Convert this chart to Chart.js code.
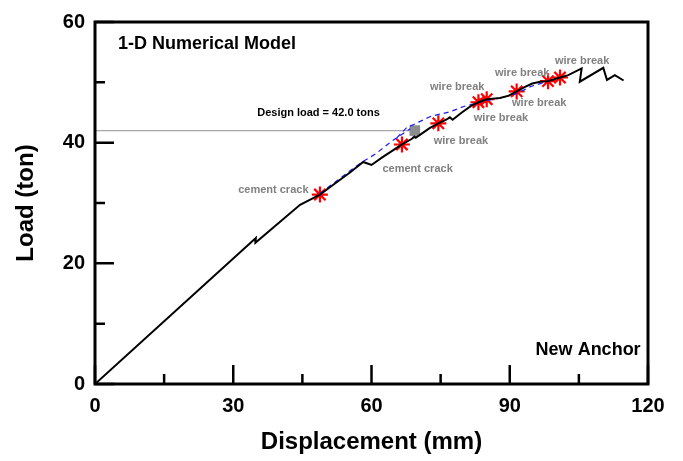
<!DOCTYPE html>
<html>
<head>
<meta charset="utf-8">
<title>Load - Displacement</title>
<script src="https://cdn.jsdelivr.net/npm/chart.js@4.4.1/dist/chart.umd.min.js"></script>
<style>
  html, body { margin: 0; padding: 0; background: #fff; }
  #wrap { width: 683px; height: 461px; }
</style>
</head>
<body>
<div id="wrap"><canvas id="anchorChart" width="683" height="461"></canvas></div>
<script>
// ── DATA ──────────────────────────────────────────────────────
// 1-D model response (mm / ton)
const dispModel = [0, 34.9, 34.8, 44.5, 48.8, 52.0, 55.4, 58.2, 60.0, 62.4, 64.4, 66.6, 68.7, 69.3, 69.6,
  70.9, 72.6, 74.5, 76.2, 77.0, 77.6, 79.6, 81.6, 83.2, 85.0, 86.3, 87.9, 89.8, 91.5, 93.2, 94.9,
  96.6, 98.3, 100.9, 102.7, 105.6, 105.2, 110.3, 111.1, 112.8, 114.7];
const loadModel = [0, 24.2, 23.4, 29.7, 31.4, 33.2, 35.1, 36.8, 36.3, 37.6, 38.6, 39.7, 40.6, 41.0, 40.8,
  41.5, 42.4, 43.2, 43.8, 44.2, 43.8, 45.0, 46.1, 46.7, 47.2, 47.3, 47.4, 47.8, 48.5, 49.2, 49.8,
  50.1, 50.2, 50.8, 51.2, 52.3, 50.1, 52.4, 50.4, 51.2, 50.3];

// dashed branches
const dispBranchA = [48.8, 52.5, 56.5, 58.2, 61.0, 64.5, 68.4];
const loadBranchA = [31.6, 33.7, 36.0, 36.9, 38.2, 40.3, 42.3];
const dispBranchB = [65.5, 67.5, 70.2, 73.0, 77.0, 80.0, 82.5, 85.0, 88.0, 91.5, 94.5, 97.5, 99.5];
const loadBranchB = [40.8, 42.4, 43.4, 44.4, 45.1, 46.0, 46.5, 47.0, 47.4, 48.1, 49.3, 50.0, 50.5];

// cracking / wire break events
const eventDisp = [48.8, 66.6, 74.5, 83.2, 85.0, 91.5, 98.3, 100.9];
const eventLoad = [31.4, 39.7, 43.2, 46.7, 47.2, 48.5, 50.2, 50.8];

// event labels
const noteText = ['cement crack', 'cement crack', 'wire break', 'wire break',
  'wire break', 'wire break', 'wire break', 'wire break'];
const noteX = [38.7, 70.0, 79.4, 88.1, 78.6, 96.4, 92.7, 105.7];
const noteY = [32.1, 35.6, 40.3, 44.1, 49.3, 46.5, 51.6, 53.6];

const designLoad = 42.0;
const designDisp = 69.4;

// axis ticks
const xMajor = [0, 30, 60, 90, 120];
const xMinor = [15, 45, 75, 105];
const yMajor = [0, 20, 40, 60];
const yMinor = [10, 30, 50];

const FONT = "'Liberation Sans', Arial, Helvetica, sans-serif";

function pts(xs, ys) {
  return xs.map((v, i) => ({ x: v, y: ys[i] }));
}

// ── FRAME, TICKS & TEXT ───────────────────────────────────────
const framePlugin = {
  id: 'frame',
  afterDatasetsDraw(chart) {
    const { ctx, chartArea: a, scales: { x, y } } = chart;
    ctx.save();
    ctx.strokeStyle = '#000';
    ctx.lineWidth = 3;
    ctx.strokeRect(a.left, a.top, a.right - a.left, a.bottom - a.top);

    ctx.lineWidth = 2.5;
    ctx.beginPath();
    const tickX = (v, len) => {
      const px = x.getPixelForValue(v);
      ctx.moveTo(px, a.bottom); ctx.lineTo(px, a.bottom - len);
    };
    const tickY = (v, len) => {
      const py = y.getPixelForValue(v);
      ctx.moveTo(a.left, py); ctx.lineTo(a.left + len, py);
    };
    xMajor.forEach(v => tickX(v, 19));
    xMinor.forEach(v => tickX(v, 10));
    yMajor.forEach(v => tickY(v, 19));
    yMinor.forEach(v => tickY(v, 10));
    ctx.stroke();
    ctx.restore();
  },
  afterDraw(chart) {
    const { ctx, scales: { x, y } } = chart;
    ctx.save();
    ctx.textBaseline = 'middle';

    ctx.fillStyle = '#808080';
    ctx.textAlign = 'center';
    ctx.font = `bold 11px ${FONT}`;
    noteText.forEach((t, i) => {
      ctx.fillText(t, x.getPixelForValue(noteX[i]), y.getPixelForValue(noteY[i]));
    });

    ctx.fillStyle = '#000';
    ctx.fillText('Design load = 42.0 tons', x.getPixelForValue(48.5), y.getPixelForValue(44.9));

    ctx.font = `bold 18px ${FONT}`;
    ctx.textAlign = 'left';
    ctx.fillText('1-D Numerical Model', x.getPixelForValue(5.0), y.getPixelForValue(56.3));
    ctx.textAlign = 'right';
    ctx.fillText('New Anchor', x.getPixelForValue(118.4), y.getPixelForValue(5.7));
    ctx.restore();
  }
};

// ── CHART ─────────────────────────────────────────────────────
const ctx = document.getElementById('anchorChart').getContext('2d');
new Chart(ctx, {
  type: 'line',
  data: {
    datasets: [
      {
        label: '1-D model',
        data: pts(dispModel, loadModel),
        borderColor: '#000',
        borderWidth: 2,
        pointRadius: 0,
        tension: 0,
        order: 1,
      },
      {
        label: 'branch A',
        data: pts(dispBranchA, loadBranchA),
        borderColor: '#1a1aff',
        borderWidth: 1.2,
        borderDash: [5, 4],
        pointRadius: 0,
        order: 2,
      },
      {
        label: 'branch B',
        data: pts(dispBranchB, loadBranchB),
        borderColor: '#1a1aff',
        borderWidth: 1.2,
        borderDash: [5, 4],
        pointRadius: 0,
        order: 2,
      },
      {
        label: 'events',
        data: pts(eventDisp, eventLoad),
        showLine: false,
        pointStyle: 'star',
        pointRadius: 8,
        pointBorderWidth: 2.2,
        pointBorderColor: '#ff0000',
        order: 3,
      },
      {
        label: 'design load',
        data: [{ x: 0, y: designLoad }, { x: designDisp, y: designLoad }],
        borderColor: '#a8a8a8',
        borderWidth: 1.2,
        pointStyle: 'rect',
        pointRadius: [0, 7.5],
        pointBackgroundColor: '#8c8c8c',
        pointBorderColor: '#8c8c8c',
        pointBorderWidth: 0,
        order: 4,
      },
    ],
  },
  options: {
    responsive: false,
    animation: false,
    devicePixelRatio: 1,
    layout: { padding: { top: 18, right: 35, left: 0, bottom: 0 } },
    plugins: { legend: { display: false }, tooltip: { enabled: false } },
    scales: {
      x: {
        type: 'linear',
        min: 0,
        max: 120,
        afterFit: s => { s.height = 77; },
        grid: { display: false, drawTicks: false },
        border: { display: false },
        ticks: {
          stepSize: 30,
          color: '#000',
          padding: 10,
          maxRotation: 0,
          font: { family: FONT, size: 20, weight: 'bold' },
        },
        title: {
          display: true,
          text: 'Displacement (mm)',
          color: '#000',
          padding: { top: 4, bottom: 4 },
          font: { family: FONT, size: 24, weight: 'bold' },
        },
      },
      y: {
        type: 'linear',
        min: 0,
        max: 60,
        afterFit: s => { s.width = 95; },
        grid: { display: false, drawTicks: false },
        border: { display: false },
        ticks: {
          stepSize: 20,
          color: '#000',
          padding: 10,
          font: { family: FONT, size: 20, weight: 'bold' },
        },
        title: {
          display: true,
          text: 'Load (ton)',
          color: '#000',
          padding: { top: 12, bottom: 0 },
          font: { family: FONT, size: 24, weight: 'bold' },
        },
      },
    },
  },
  plugins: [framePlugin],
});
</script>
</body>
</html>
